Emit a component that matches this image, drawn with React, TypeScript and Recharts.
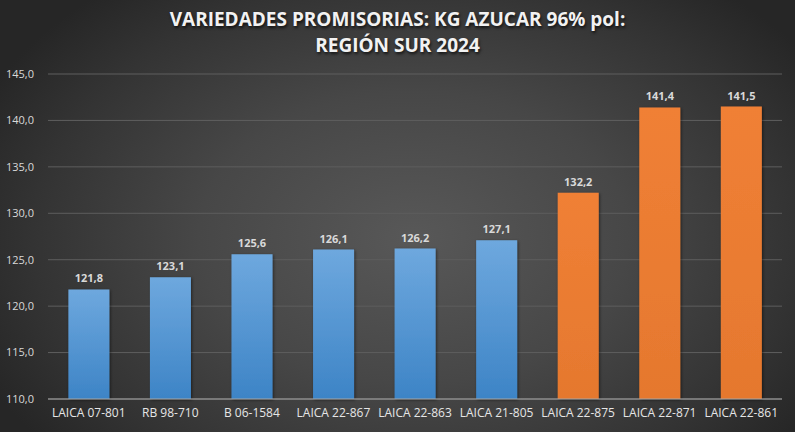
import React from 'react';
import { BarChart, Bar, XAxis, YAxis, CartesianGrid, LabelList, Cell } from 'recharts';

const varieties = [
  'LAICA 07-801', 'RB 98-710', 'B 06-1584', 'LAICA 22-867', 'LAICA 22-863',
  'LAICA 21-805', 'LAICA 22-875', 'LAICA 22-871', 'LAICA 22-861',
];
const kgAzucar = [121.8, 123.1, 125.6, 126.1, 126.2, 127.1, 132.2, 141.4, 141.5];
const promising = [false, false, false, false, false, false, true, true, true];
const yTicks = [110, 115, 120, 125, 130, 135, 140, 145];

const data = varieties.map((name, i) => ({ name, value: kgAzucar[i], promising: promising[i] }));

const fmt = (v: number) => v.toFixed(1).replace('.', ',');

const App: React.FC = () => {
  return (
    <div
      style={{
        position: 'absolute',
        left: 0,
        top: 0,
        width: 795,
        height: 432,
        background: 'radial-gradient(ellipse 60% 75% at 52% 55%, #585858 0%, #474747 45%, #333333 80%, #262626 100%)',
        fontFamily: '"Open Sans", sans-serif',
        overflow: 'hidden',
      }}
    >
      <div
        style={{
          position: 'absolute',
          top: 6,
          left: 0,
          width: 795,
          textAlign: 'center',
          color: '#f2f2f2',
          fontWeight: 700,
          fontSize: 19,
          lineHeight: '26px',
          textShadow: '1px 2px 3px rgba(0,0,0,0.7)',
        }}
      >
        VARIEDADES PROMISORIAS: KG AZUCAR 96% pol:
        <br />
        REGIÓN SUR 2024
      </div>
      <div style={{ position: 'absolute', left: 0, top: 0 }}>
        <BarChart width={795} height={432} data={data} margin={{ top: 74, right: 13, bottom: 3, left: 0 }} barCategoryGap="25%">
          <defs>
            <linearGradient id="blueGrad" x1="0" y1="0" x2="0" y2="1">
              <stop offset="0%" stopColor="#6ea8de" />
              <stop offset="100%" stopColor="#3d84c6" />
            </linearGradient>
            <linearGradient id="orangeGrad" x1="0" y1="0" x2="0" y2="1">
              <stop offset="0%" stopColor="#f08036" />
              <stop offset="100%" stopColor="#e5782e" />
            </linearGradient>
            <filter id="barShadow" x="-20%" y="-10%" width="140%" height="120%">
              <feDropShadow dx="1" dy="1" stdDeviation="1.5" floodColor="#000" floodOpacity="0.5" />
            </filter>
          </defs>
          <CartesianGrid vertical={false} stroke="#5e5e5e" strokeWidth={1} />
          <XAxis
            dataKey="name"
            height={30}
            axisLine={{ stroke: '#a6a6a6' }}
            tickLine={false}
            tickSize={0}
            tickMargin={9}
            interval={0}
            tick={{ fill: '#e6e6e6', fontSize: 12, fontFamily: '"Open Sans", sans-serif' }}
          />
          <YAxis
            width={48}
            domain={[110, 145]}
            ticks={yTicks}
            tickFormatter={fmt}
            axisLine={false}
            tickLine={false}
            tickSize={0}
            tickMargin={14}
            tick={{ fill: '#d9d9d9', fontSize: 11, fontFamily: '"Open Sans", sans-serif' }}
          />
          <Bar dataKey="value" isAnimationActive={false} filter="url(#barShadow)">
            {data.map((d, i) => (
              <Cell key={`cell-${i}`} fill={d.promising ? 'url(#orangeGrad)' : 'url(#blueGrad)'} />
            ))}
            <LabelList
              dataKey="value"
              position="top"
              offset={7}
              formatter={(v: any) => fmt(Number(v))}
              style={{ fill: '#d9d9d9', fontSize: 11, fontWeight: 700, fontFamily: '"Open Sans", sans-serif' }}
            />
          </Bar>
        </BarChart>
      </div>
    </div>
  );
};

export default App;
